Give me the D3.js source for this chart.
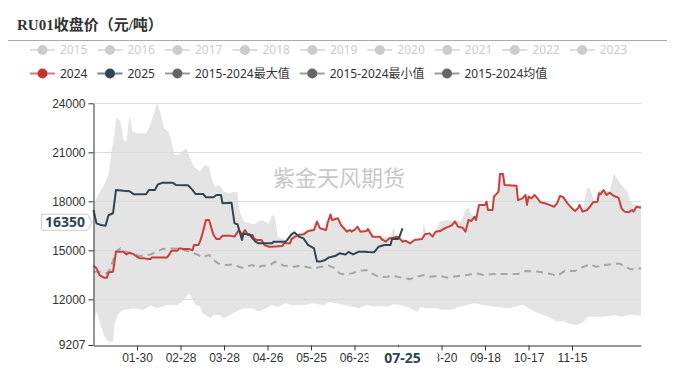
<!DOCTYPE html>
<meta charset="utf-8">
<style>
    body {
        margin: 0;
        background: #fff;
    }

    svg {
        display: block;
        font-family: "Noto Sans", "Noto Sans CJK SC", sans-serif;
    }

    .title {
        font: bold 15px "Liberation Serif", "Noto Sans CJK SC", serif;
        fill: #333;
    }

    .legend text {
        font-size: 12px;
    }

    .axis text {
        font-size: 12px;
        fill: #333;
    }

    .axis path,
    .axis line {
        stroke: #333;
    }

    .grid line {
        stroke: #dcdcdc;
    }

    .watermark {
        font-size: 22px;
        fill: #c8c8c8;
        text-anchor: middle;
    }

    .pointer text {
        font-size: 14px;
        font-weight: bold;
        fill: #2f4554;
    }
</style>

<body>
    <svg width="678" height="370"></svg>
</body>

<script src="https://d3js.org/d3.v7.min.js"></script>
<script>

    var titleText = "RU01收盘价（元/吨）";
    var watermarkText = "紫金天风期货";

    var legendOld = ["2015", "2016", "2017", "2018", "2019", "2020", "2021", "2022", "2023"];
    var legendMain = ["2024", "2025", "2015-2024最大值", "2015-2024最小值", "2015-2024均值"];
    var legendColors = ["#c23531", "#2f4554", "#666", "#666", "#666"];

    var xTickLabels = ["01-30", "02-28", "03-28", "04-26", "05-25", "06-23", "07-22", "08-20", "09-18", "10-17", "11-15"];
    var yTicks = [9207, 12000, 15000, 18000, 21000, 24000];
    var yGrid = [12000, 15000, 18000, 21000, 24000];

    var s2025 = [
        ["01-01", 17470], ["01-03", 16650], ["01-06", 16550], ["01-09", 16500], ["01-11", 17150],
        ["01-14", 17270], ["01-16", 18700], ["01-21", 18650], ["01-25", 18620], ["01-28", 18430],
        ["02-05", 18430], ["02-07", 18700], ["02-11", 18700], ["02-13", 19040], ["02-16", 19140],
        ["02-23", 19130], ["02-25", 19000], ["03-04", 18980], ["03-07", 18700], ["03-09", 18450],
        ["03-14", 18450], ["03-16", 18250], ["03-21", 18250], ["03-23", 18390], ["03-26", 18390],
        ["03-27", 17880], ["04-02", 17920], ["04-04", 16650], ["04-06", 16600], ["04-09", 15630],
        ["04-10", 16040], ["04-12", 15980], ["04-14", 15980], ["04-16", 15730], ["04-18", 15530],
        ["04-20", 15430], ["04-29", 15430], ["04-30", 15530], ["05-08", 15530], ["05-09", 15630],
        ["05-12", 15980], ["05-14", 16100], ["05-17", 15840], ["05-20", 15730], ["05-23", 15330],
        ["05-27", 15120], ["05-29", 14310], ["05-31", 14310], ["06-03", 14390], ["06-06", 14570],
        ["06-10", 14650], ["06-13", 14820], ["06-17", 14750], ["06-19", 14900], ["06-22", 14750],
        ["06-26", 14920], ["06-30", 14920], ["07-02", 14900], ["07-06", 14880], ["07-09", 15220],
        ["07-13", 15330], ["07-17", 15330], ["07-18", 15690], ["07-22", 15690], ["07-23", 15840],
        ["07-25", 16350]
    ];

    var s2024 = [
        ["01-01", 14060], ["01-03", 13900], ["01-05", 13490], ["01-08", 13330], ["01-10", 13330],
        ["01-11", 13650], ["01-14", 13690], ["01-16", 14920], ["01-21", 14920], ["01-23", 14750],
        ["01-25", 14860], ["01-28", 14750], ["01-30", 14610], ["02-01", 14510], ["02-04", 14510],
        ["02-06", 14470], ["02-08", 14470], ["02-09", 14570], ["02-19", 14570], ["02-20", 14670],
        ["02-22", 14980], ["02-26", 14980], ["02-27", 15120], ["02-28", 15120], ["03-01", 15080],
        ["03-05", 15080], ["03-07", 15000], ["03-08", 15330], ["03-11", 15330], ["03-12", 15530],
        ["03-14", 16140], ["03-16", 16860], ["03-18", 16860], ["03-19", 16550], ["03-21", 15940],
        ["03-23", 15690], ["03-25", 15690], ["03-27", 15900], ["04-01", 15900], ["04-04", 15840],
        ["04-07", 16250], ["04-09", 15940], ["04-11", 16250], ["04-13", 15940], ["04-16", 15940],
        ["04-17", 15730], ["04-19", 15630], ["04-22", 15630], ["04-24", 15330], ["04-27", 15220],
        ["04-29", 15220], ["05-06", 15270], ["05-07", 15430], ["05-11", 15430], ["05-12", 15690],
        ["05-16", 15940], ["05-20", 15980], ["05-23", 16180], ["05-27", 16250], ["05-29", 16760],
        ["05-31", 16350], ["06-04", 16250], ["06-05", 16660], ["06-07", 17200], ["06-08", 16860],
        ["06-12", 16960], ["06-14", 16550], ["06-18", 16140], ["06-20", 16250], ["06-21", 16140],
        ["06-23", 16250], ["06-25", 16450], ["06-27", 16140], ["07-01", 16180], ["07-02", 16310],
        ["07-05", 15840], ["07-10", 15840], ["07-11", 15690], ["07-14", 15530], ["07-16", 15730],
        ["07-19", 15770], ["07-21", 15840], ["07-23", 15730], ["07-25", 15530], ["07-27", 15590],
        ["07-30", 15430], ["08-02", 15630], ["08-07", 15690], ["08-09", 15980], ["08-12", 16040],
        ["08-14", 15840], ["08-16", 16140], ["08-19", 16180], ["08-23", 16390], ["08-25", 16450],
        ["08-27", 16550], ["08-29", 16760], ["08-31", 16450], ["09-03", 16390], ["09-05", 16140],
        ["09-07", 16860], ["09-09", 16800], ["09-11", 17060], ["09-12", 16860], ["09-14", 17780],
        ["09-18", 17780], ["09-19", 17980], ["09-20", 17470], ["09-23", 17470], ["09-24", 18290],
        ["09-27", 18590], ["09-28", 19670], ["09-30", 19670], ["10-01", 19000], ["10-09", 18960],
        ["10-10", 18080], ["10-13", 18180], ["10-15", 18390], ["10-16", 17780], ["10-17", 18290],
        ["10-19", 18180], ["10-21", 18390], ["10-23", 18180], ["10-25", 17940], ["10-28", 17880],
        ["10-31", 17780], ["11-03", 17670], ["11-05", 17880], ["11-07", 18330], ["11-09", 18270],
        ["11-12", 17880], ["11-15", 17570], ["11-17", 17410], ["11-19", 17570], ["11-20", 17780],
        ["11-22", 17370], ["11-25", 17470], ["11-27", 17670], ["11-29", 17940], ["12-02", 17980],
        ["12-03", 18490], ["12-04", 18430], ["12-06", 18690], ["12-08", 18390], ["12-10", 18530],
        ["12-13", 18330], ["12-16", 18230], ["12-18", 17570], ["12-20", 17370], ["12-23", 17330],
        ["12-25", 17470], ["12-26", 17370], ["12-28", 17670], ["12-31", 17610]
    ];

    var bandMax = [
        ["01-01", 17780], ["01-04", 18390], ["01-08", 19000], ["01-11", 19610], ["01-13", 21040],
        ["01-15", 22060], ["01-16", 23120], ["01-19", 22880], ["01-21", 21760], ["01-23", 21650],
        ["01-25", 23290], ["01-27", 22270], ["01-30", 22160], ["02-05", 22160], ["02-07", 22470],
        ["02-10", 23290], ["02-12", 23900], ["02-13", 23940], ["02-16", 22880], ["02-17", 22470],
        ["02-20", 22270], ["02-22", 21650], ["02-24", 20840], ["02-27", 20840], ["03-01", 21140],
        ["03-03", 21250], ["03-05", 20740], ["03-08", 20120], ["03-12", 19820], ["03-15", 20230],
        ["03-18", 20120], ["03-20", 19310], ["03-22", 18900], ["03-25", 19000], ["03-28", 18590],
        ["04-01", 18490], ["04-03", 18590], ["04-06", 18550], ["04-07", 17570], ["04-10", 16760],
        ["04-17", 16600], ["04-22", 16860], ["04-27", 16650], ["04-29", 17160], ["05-01", 17060],
        ["05-02", 16350], ["05-03", 15840], ["05-08", 15630], ["05-14", 16100], ["05-18", 15980],
        ["05-23", 16180], ["05-27", 16250], ["05-29", 16760], ["05-31", 16350], ["06-04", 16250],
        ["06-07", 17200], ["06-08", 16860], ["06-12", 16960], ["06-14", 16550], ["06-18", 16140],
        ["06-23", 16250], ["06-25", 16450], ["06-27", 16180], ["07-02", 16310], ["07-05", 15840],
        ["07-17", 15840], ["07-19", 16450], ["07-21", 15840], ["07-25", 15730], ["07-30", 15430],
        ["08-04", 15630], ["08-07", 15690], ["08-08", 16650], ["08-10", 16040], ["08-14", 15840],
        ["08-16", 16140], ["08-19", 16760], ["08-23", 16860], ["08-26", 16760], ["08-29", 16860],
        ["09-02", 16760], ["09-05", 17470], ["09-07", 17570], ["09-10", 16960], ["09-12", 17060],
        ["09-14", 17780], ["09-18", 17780], ["09-19", 17980], ["09-20", 17470], ["09-23", 17470],
        ["09-24", 18290], ["09-27", 18590], ["09-28", 19670], ["09-30", 19670], ["10-01", 19000],
        ["10-09", 18960], ["10-10", 18080], ["10-13", 18180], ["10-15", 18390], ["10-16", 17780],
        ["10-17", 18290], ["10-19", 18180], ["10-21", 18390], ["10-23", 18180], ["10-25", 17940],
        ["10-28", 17880], ["10-31", 17780], ["11-03", 17670], ["11-05", 17880], ["11-07", 18330],
        ["11-09", 18270], ["11-12", 17880], ["11-15", 17570], ["11-17", 17410], ["11-19", 17570],
        ["11-22", 17370], ["11-25", 18800], ["11-27", 18800], ["11-30", 17940], ["12-03", 18690],
        ["12-06", 18690], ["12-10", 18590], ["12-13", 19710], ["12-15", 19400], ["12-18", 19000],
        ["12-22", 18590], ["12-24", 17980], ["12-27", 17780], ["12-31", 17780]
    ];

    var bandMin = [
        ["01-01", 10630], ["01-02", 10840], ["01-03", 11240], ["01-05", 10630], ["01-08", 9820],
        ["01-10", 9510], ["01-12", 9410], ["01-14", 9410], ["01-15", 10430], ["01-17", 11040],
        ["01-19", 11240], ["01-21", 11350], ["01-28", 11450], ["02-03", 11350], ["02-08", 11610],
        ["02-12", 11450], ["02-19", 11660], ["02-26", 11660], ["02-29", 11860], ["03-03", 12160],
        ["03-05", 12370], ["03-09", 11660], ["03-12", 11550], ["03-14", 11140], ["03-19", 10840],
        ["03-21", 11040], ["03-25", 11040], ["03-28", 10840], ["04-01", 11040], ["04-07", 11350],
        ["04-11", 11450], ["04-16", 11450], ["04-20", 11250], ["04-25", 11450], ["04-29", 11660],
        ["05-03", 11550], ["05-08", 11760], ["05-12", 11660], ["05-21", 11660], ["05-26", 11760],
        ["05-30", 11700], ["06-03", 11660], ["06-06", 11860], ["06-10", 11760], ["06-17", 11660],
        ["06-21", 11550], ["06-26", 11450], ["07-01", 11660], ["07-06", 11550], ["07-10", 11610],
        ["07-15", 11550], ["07-19", 11700], ["07-24", 11660], ["07-28", 11550], ["08-01", 11350],
        ["08-04", 11240], ["08-06", 11550], ["08-10", 11450], ["08-17", 11450], ["08-21", 11350],
        ["08-26", 11350], ["09-01", 11550], ["09-06", 11660], ["09-11", 11760], ["09-17", 11660],
        ["09-24", 11550], ["10-04", 11450], ["10-08", 11550], ["10-13", 11690], ["10-17", 11450],
        ["10-24", 11140], ["10-30", 10940], ["11-05", 10630], ["11-09", 10670], ["11-14", 10490],
        ["11-18", 10430], ["11-23", 10630], ["11-25", 10940], ["12-05", 10940], ["12-14", 11040],
        ["12-18", 10940], ["12-23", 11040], ["12-27", 11040], ["12-31", 11000]
    ];

    var bandAvg = [
        ["01-01", 13690], ["01-05", 13690], ["01-10", 13590], ["01-12", 13830], ["01-16", 14920],
        ["01-19", 15120], ["01-21", 14960], ["01-28", 14750], ["02-01", 14650], ["02-08", 14750],
        ["02-16", 15080], ["02-21", 15120], ["02-28", 15080], ["03-05", 14920], ["03-10", 14750],
        ["03-14", 14570], ["03-18", 14720], ["03-21", 14410], ["03-24", 14200], ["03-30", 14100],
        ["04-02", 14140], ["04-09", 13940], ["04-16", 14100], ["04-20", 13940], ["04-22", 14060],
        ["04-27", 14060], ["05-01", 14310], ["05-07", 14060], ["05-14", 14000], ["05-18", 14060],
        ["05-26", 13900], ["06-01", 14000], ["06-06", 14060], ["06-10", 13900], ["06-13", 13590],
        ["06-17", 13530], ["06-21", 13590], ["06-26", 13730], ["07-01", 13800], ["07-03", 13650],
        ["07-10", 13350], ["07-15", 13390], ["07-19", 13450], ["07-24", 13330], ["07-30", 13240],
        ["08-04", 13390], ["08-08", 13490], ["08-12", 13390], ["08-19", 13430], ["08-24", 13330],
        ["08-28", 13390], ["09-06", 13490], ["09-12", 13590], ["09-17", 13490], ["09-24", 13550],
        ["10-04", 13550], ["10-10", 13550], ["10-15", 13730], ["10-24", 13690], ["11-02", 13530],
        ["11-05", 13430], ["11-10", 13730], ["11-17", 13730], ["11-20", 13900], ["11-27", 14140],
        ["12-01", 14000], ["12-07", 14100], ["12-16", 14200], ["12-19", 14100], ["12-24", 13840],
        ["12-27", 13840], ["12-31", 13900]
    ];

    var svg = d3.select("svg");

    // every calendar day (leap year) is one category on the x axis
    var days = d3.timeDays(new Date(2024, 0, 1), new Date(2025, 0, 1)).map(d3.timeFormat("%m-%d"));

    var x = d3.scalePoint().domain(days).range([93.5, 641]).padding(0);
    var y = d3.scaleLinear().domain([9207, 24000]).range([345, 103.3]);

    // title
    svg.append("text")
        .attr("class", "title")
        .attr("x", 17)
        .attr("y", 30)
        .text(titleText);

    svg.append("line")
        .attr("x1", 8).attr("x2", 667)
        .attr("y1", 40.5).attr("y2", 40.5)
        .attr("stroke", "#aaa");

    // legend
    function legendRow(names, colors, rowY, textColor) {
        var g = svg.append("g").attr("class", "legend");
        var cx = 30;
        names.forEach(function (name, i) {
            var item = g.append("g").attr("transform", "translate(" + cx + "," + rowY + ")");
            var c = colors[i];
            item.append("line")
                .attr("x1", 0).attr("x2", 25)
                .attr("stroke", c).attr("stroke-width", 2)
                .attr("stroke-opacity", 0.65);
            item.append("circle")
                .attr("cx", 12.5).attr("r", 5)
                .attr("fill", c);
            var t = item.append("text")
                .attr("x", 30).attr("dy", "0.35em")
                .attr("fill", textColor || "#333")
                .text(name);
            cx += 30 + t.node().getComputedTextLength() + 10;
        });
    }
    legendRow(legendOld, legendOld.map(function () { return "#ccc"; }), 50, "#ccc");
    legendRow(legendMain, legendColors, 73.5);

    // min / max band
    var line = d3.line()
        .x(function (d) { return x(d[0]); })
        .y(function (d) { return y(d[1]); });

    svg.append("path")
        .attr("d", line(bandMax.concat(bandMin.slice().reverse())) + "Z")
        .attr("fill", "#e4e4e4");

    // grid
    svg.append("g")
        .attr("class", "grid")
        .selectAll("line")
        .data(yGrid)
        .enter().append("line")
        .attr("x1", 93.5).attr("x2", 641)
        .attr("y1", function (d) { return Math.round(y(d)) + 0.5; })
        .attr("y2", function (d) { return Math.round(y(d)) + 0.5; });

    svg.append("text")
        .attr("class", "watermark")
        .attr("x", 339)
        .attr("y", 186)
        .text(watermarkText);

    // mean, 2024, 2025
    svg.append("path")
        .attr("d", line(bandAvg))
        .attr("fill", "none")
        .attr("stroke", "#a6a6a6")
        .attr("stroke-width", 2)
        .attr("stroke-dasharray", "7,5");

    svg.append("path")
        .attr("d", line(s2024))
        .attr("fill", "none")
        .attr("stroke", "#c8403b")
        .attr("stroke-width", 2)
        .attr("stroke-linejoin", "round");

    svg.append("path")
        .attr("d", line(s2025))
        .attr("fill", "none")
        .attr("stroke", "#2f4554")
        .attr("stroke-width", 2)
        .attr("stroke-linejoin", "round");

    // axes
    svg.append("g")
        .attr("class", "axis")
        .attr("transform", "translate(93.5,0)")
        .call(d3.axisLeft(y).tickValues(yTicks).tickSize(5).tickSizeOuter(0).tickPadding(3).tickFormat(d3.format("d")));

    var xAxis = svg.append("g")
        .attr("class", "axis")
        .attr("transform", "translate(0,345.5)")
        .call(d3.axisBottom(x).tickValues(xTickLabels).tickSize(5).tickSizeOuter(0).tickPadding(3));

    // latest value labels (last point of 2025)
    var last = s2025[s2025.length - 1];
    var lx = x(last[0]);

    // the date label sits on top of the tick label underneath it
    xAxis.selectAll(".tick text")
        .filter(function (d) { return Math.abs(x(d) - lx) < 20; })
        .remove();

    var pg = svg.append("g").attr("class", "pointer");

    pg.append("rect")
        .attr("x", lx - 34).attr("y", 347)
        .attr("width", 69).attr("height", 21)
        .attr("fill", "#fff");
    pg.append("text")
        .attr("x", lx).attr("y", 358)
        .attr("dy", "0.35em")
        .attr("text-anchor", "middle")
        .text(last[0]);

    var ly = y(last[1]) - 6;
    pg.append("path")
        .attr("d", "M41.5," + (ly - 8) + "H87.5L92," + ly + "L87.5," + (ly + 8) + "H41.5Z")
        .attr("fill", "#fff")
        .attr("stroke", "#ccc");
    pg.append("text")
        .attr("x", 65).attr("y", ly)
        .attr("dy", "0.35em")
        .attr("text-anchor", "middle")
        .text(last[1]);

</script>
